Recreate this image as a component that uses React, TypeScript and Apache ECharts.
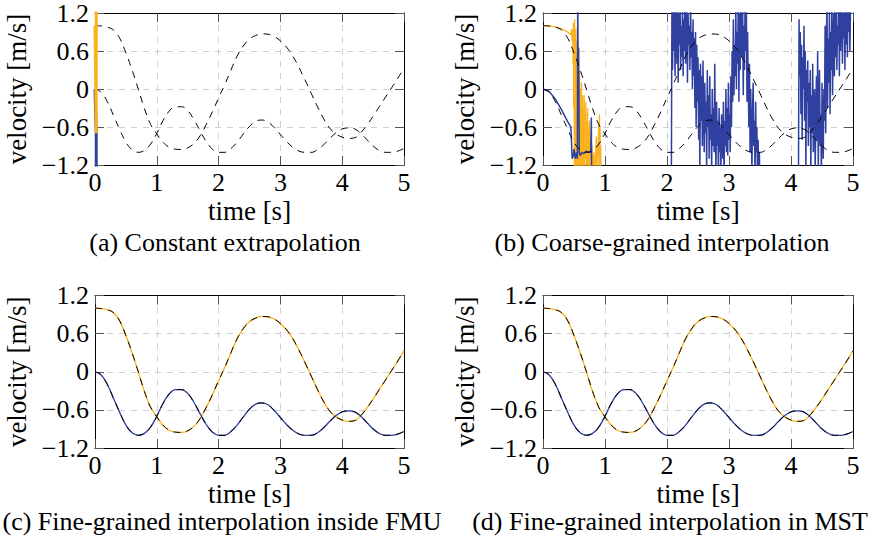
import React, { useEffect, useRef } from "react";
import * as echarts from "echarts";

// ---- data ----
const refTime = [
  0, 0.1, 0.2, 0.3, 0.4, 0.5, 0.6, 0.7, 0.8, 0.9, 1.0, 1.1, 1.2, 1.3, 1.4, 1.5, 1.6, 1.7, 1.8, 1.9,
  2.0, 2.1, 2.2, 2.3, 2.4, 2.5, 2.6, 2.7, 2.8, 2.9, 3.0, 3.1, 3.2, 3.3, 3.4, 3.5, 3.6, 3.7, 3.8, 3.9,
  4.0, 4.1, 4.2, 4.3, 4.4, 4.5, 4.6, 4.7, 4.8, 4.9, 5.0,
];
// velocity of body 1 (upper curve)
const refVel1 = [
  1.0, 0.995, 0.975, 0.93, 0.8, 0.57, 0.3, 0.0, -0.31, -0.56, -0.71, -0.84, -0.92, -0.95, -0.955, -0.93,
  -0.86, -0.74, -0.56, -0.36, -0.14, 0.07, 0.3, 0.52, 0.68, 0.79, 0.845, 0.87, 0.865, 0.83, 0.76, 0.66,
  0.52, 0.34, 0.14, -0.07, -0.28, -0.47, -0.62, -0.71, -0.76, -0.78, -0.77, -0.69, -0.57, -0.43, -0.28,
  -0.13, 0.02, 0.17, 0.33,
];
// velocity of body 2 (lower curve)
const refVel2 = [
  0, -0.05, -0.2, -0.42, -0.64, -0.84, -0.96, -1.0, -0.97, -0.87, -0.7, -0.5, -0.35, -0.28, -0.28, -0.34,
  -0.48, -0.66, -0.83, -0.95, -1.0, -1.0, -0.94, -0.84, -0.71, -0.59, -0.51, -0.49, -0.52, -0.61, -0.72,
  -0.83, -0.92, -0.98, -1.0, -1.0, -0.96, -0.88, -0.78, -0.69, -0.63, -0.615, -0.63, -0.7, -0.8, -0.9,
  -0.97, -1.0, -1.0, -0.98, -0.94,
];

// (a) constant extrapolation: diverges immediately
const constVel1: [number, number][] = [[0, 1.0], [0.02, -0.7], [0.021, 3]];
const constVel2: [number, number][] = [[0, 0], [0.02, -0.7], [0.021, -3]];

// (b) coarse-grained interpolation
const coarseVel1: [number, number][] = [
  [0, 1.0], [0.1, 0.995], [0.2, 0.98], [0.3, 0.95], [0.4, 0.9], [0.45, 0.85], [0.46, 0.95], [0.47, 0.75],
  [0.48, 0.93], [0.485, 0.4], [0.49, 1.05], [0.495, -0.3], [0.5, 0.9], [0.505, -1.3], [0.51, 1.1],
  [0.515, -0.6], [0.52, 0.85], [0.525, -1.3], [0.53, 0.95], [0.535, -0.9], [0.54, 0.6], [0.545, -1.3],
  [0.55, 0.75], [0.555, -1.1], [0.56, 0.4], [0.565, -1.3], [0.57, 0.5], [0.575, -0.7], [0.58, 0.2],
  [0.585, -1.3], [0.59, 0.3], [0.595, -1.0], [0.6, 0.0], [0.605, -1.3], [0.61, -0.1], [0.615, -1.2],
  [0.62, 0.1], [0.625, -1.3], [0.63, -0.2], [0.635, -1.1], [0.64, -0.1], [0.645, -1.3], [0.65, -0.3],
  [0.66, -1.2], [0.665, -0.1], [0.67, -1.3], [0.68, -0.4], [0.685, -1.1], [0.69, -0.2], [0.7, -1.3],
  [0.705, -0.5], [0.71, -1.2], [0.72, -0.3], [0.725, -1.3], [0.73, -0.6], [0.74, -1.25], [0.75, -0.5],
  [0.76, -1.3], [0.77, -0.8], [0.78, -1.3], [0.79, -0.9], [0.8, -1.3], [0.82, -1.0], [0.84, -1.3],
  [0.86, -0.75], [0.87, -1.3], [0.9, -0.55], [0.905, -1.3], [0.91, -0.4], [0.915, -1.3], [0.92, -0.6],
  [0.925, -1.4], [0.93, -0.9], [0.94, -1.5],
];
const coarseVel2Early: [number, number][] = [
  [0, 0], [0.1, -0.04], [0.2, -0.16], [0.3, -0.33], [0.4, -0.52], [0.45, -0.6], [0.46, -0.6],
  [0.47, -1.1], [0.49, -1.05], [0.5, -0.95], [0.52, -1.1], [0.54, -1.0], [0.555, -1.1], [0.56, 1.5],
  [0.565, 0.6], [0.57, 0.55], [0.575, 0.65], [0.58, -0.2], [0.585, -1.0], [0.6, -1.05], [0.63, -1.0],
  [0.66, -1.02], [0.7, -0.98], [0.74, -1.0], [0.77, -1.0], [0.78, -0.45], [0.785, -1.6],
];
const noiseStep = 0.01;
const burst1Start = 2.07;
const burst1Values = [
  -1.5, 1.5, 0.3, 1.4, 0.6, 1.3, 0.2, 0.9, 1.5, 0.4,
  1.3, 0.1, 1.2, 0.7, 1.5, 0.3, 1.0, 0.5, 1.4, 0.2,
  1.1, 0.6, 1.5, 0.4, 0.9, 1.3, 0.1, 1.2, 0.7, 1.0,
  0.3, 1.4, 0.5, 0.9, 0.0, 1.1, 0.2, 0.8, -0.3, 0.9,
  -0.6, 0.7, -0.2, 0.5, -0.8, 0.3, -1.3, 0.4, -0.5, 0.2,
  -0.9, 0.45, -0.3, -1.0, 0.1, -0.7, -0.2, -1.3, 0.3, -0.6,
  -0.1, -1.1, 0.2, -0.8, -0.4, -1.3, 0.0, -0.9, -0.3, -1.0,
  0.4, -0.7, -1.3, -0.2, -0.9, -0.5, -1.4, -0.3, -1.0, -0.6,
  -1.3, -0.4, -0.8, -1.1, -0.2, -1.4, -0.5, -0.9, 0.0, -1.0,
  -0.3, -1.05, 0.1, -0.8, -0.4, -1.0, 0.2, -0.6, 0.6, -0.2,
  1.1, -0.1, 0.7, 0.2, 1.3, 0.0, 0.9, 0.4, 1.5, -0.2,
  1.2, 0.3, 1.5, 0.5, 0.8, 1.4, -0.1, 1.0, 0.3, 1.5,
  0.6, 1.3, -0.2, 0.9, 0.1, -0.6, 0.4, -1.0, 0.0, -0.7,
  -1.3, -0.3, 0.1, -0.9, -0.5, -1.4, -0.2, -1.0, -0.6, -1.5,
  -0.8, -1.4, -1.0, -1.6,
];
const burst2Start = 4.12;
const burst2Values = [
  -1.5, 1.1, 0.2, 0.9, -0.4, 0.7, -0.8, 0.5, 0.0, 1.0,
  -0.5, 0.6, -1.3, 0.3, -0.2, 0.45, -0.9, 0.1, -0.6, 0.3,
  -1.3, -0.1, -0.7, 0.4, -1.0, -0.3, 0.0, -1.3, -0.5, 0.2,
  -0.8, 0.6, -1.3, -0.2, 0.3, -0.9, -0.4, -1.4, 0.1, -0.6,
  -1.1, 0.0, -0.5, 1.0, -0.7, 0.5, 1.5, -0.3, 0.8, 0.1,
  1.3, -0.4, 0.9, 0.3, 1.5, -0.1, 0.6, 1.2, 0.2, 1.4,
  0.5, 1.5, 0.3, 1.0, 0.7, 1.5, 0.2, 1.3, 0.6, 1.1,
  1.5, 0.4, 1.2, 0.8, 1.5, 0.3, 1.3, 0.7, 1.5, 0.5,
  1.4, 0.9, 1.5, 0.6, 1.3, 1.5,
];

const xTicks = [0, 1, 2, 3, 4, 5];
const yTicks = [-1.2, -0.6, 0, 0.6, 1.2];
const captions = [
  "(a) Constant extrapolation",
  "(b) Coarse-grained interpolation",
  "(c) Fine-grained interpolation inside FMU",
  "(d) Fine-grained interpolation in MST",
];

// ---- styling ----
const FONT = "Liberation Serif";
const FS = 27;
const FS_TICK = 26;
const FS_CAP = 26;
const YELLOW = "#FBB21F";
const BLUE = "#2F40A0";

const grids = [
  { left: 95, top: 13, width: 309, height: 152 },
  { left: 543, top: 13, width: 310, height: 152 },
  { left: 95, top: 295.5, width: 309, height: 152.5 },
  { left: 543, top: 295.5, width: 310, height: 152.5 },
];
const captionPos = [
  [225, 242.5],
  [662, 242.5],
  [222, 521.5],
  [670, 521.5],
];

function pairs(xs: number[], ys: number[]): [number, number][] {
  return xs.map((x, i) => [x, ys[i]]);
}
function burst(start: number, values: number[]): [number, number][] {
  return values.map((v, i) => [Math.round((start + i * noiseStep) * 1000) / 1000, v]);
}
function fmtY(v: number) {
  const r = Math.round(v * 10) / 10;
  return r < 0 ? "\u2212" + String(-r) : String(r);
}

export default function App() {
  const ref = useRef<HTMLDivElement>(null);
  useEffect(() => {
    if (!ref.current) return;
    const chart = echarts.init(ref.current, undefined, { renderer: "svg" });

    const xAxis: any[] = [];
    const yAxis: any[] = [];
    grids.forEach((_, g) => {
      const lineCommon = { show: true, onZero: false, lineStyle: { color: "#000", width: 1 } };
      const tickCommon = { show: true, inside: true, length: 9, lineStyle: { color: "#555", width: 1 } };
      xAxis.push({
        type: "value", gridIndex: g, position: "bottom", min: xTicks[0], max: xTicks[xTicks.length - 1], interval: 1,
        axisLine: lineCommon, axisTick: tickCommon,
        axisLabel: { fontFamily: FONT, fontSize: FS_TICK, color: "#000", margin: 4 },
        splitLine: { show: true, lineStyle: { color: "#cfcfcf", type: [6, 6], width: 1 } },
        name: "time [s]", nameLocation: "middle", nameGap: 32,
        nameTextStyle: { fontFamily: FONT, fontSize: FS, color: "#000" },
      });
      xAxis.push({
        type: "value", gridIndex: g, position: "top", min: xTicks[0], max: xTicks[xTicks.length - 1], interval: 1,
        axisLine: lineCommon, axisTick: tickCommon, axisLabel: { show: false }, splitLine: { show: false },
      });
      yAxis.push({
        type: "value", gridIndex: g, position: "left", min: yTicks[0], max: yTicks[yTicks.length - 1], interval: 0.6,
        axisLine: lineCommon, axisTick: tickCommon,
        axisLabel: { fontFamily: FONT, fontSize: FS_TICK, color: "#000", margin: 6, formatter: fmtY },
        splitLine: { show: true, lineStyle: { color: "#cfcfcf", type: [6, 6], width: 1 } },
        name: "velocity [m/s]", nameLocation: "middle", nameGap: 65, nameRotate: 90,
        nameTextStyle: { fontFamily: FONT, fontSize: FS, color: "#000" },
      });
      yAxis.push({
        type: "value", gridIndex: g, position: "right", min: yTicks[0], max: yTicks[yTicks.length - 1], interval: 0.6,
        axisLine: lineCommon, axisTick: tickCommon, axisLabel: { show: false }, splitLine: { show: false },
      });
    });

    const line = (g: number, data: any[], color: string, width: number, smooth: any, dashed = false, z = 2) => ({
      type: "line", xAxisIndex: 2 * g, yAxisIndex: 2 * g, data, showSymbol: false, symbol: "none",
      smooth, connectNulls: false, clip: true, silent: true, z,
      lineStyle: { color, width, type: dashed ? [7, 6] : "solid" },
    });

    const ref1 = pairs(refTime, refVel1);
    const ref2 = pairs(refTime, refVel2);
    const coarseVel2 = [
      ...coarseVel2Early, null, ...burst(burst1Start, burst1Values), null, ...burst(burst2Start, burst2Values),
    ];

    const series: any[] = [];
    // (a)
    series.push(line(0, constVel2, BLUE, 3, false, false, 5));
    series.push(line(0, constVel1, YELLOW, 3, false, false, 6));
    // (b)
    series.push(line(1, coarseVel1, YELLOW, 1.3, false));
    series.push(line(1, coarseVel2, BLUE, 1.5, false));
    // (c), (d)
    [2, 3].forEach((g) => {
      series.push(line(g, ref1, YELLOW, 1.3, 0.4));
      series.push(line(g, ref2, BLUE, 1.3, 0.4));
    });
    // reference (dashed) in all panels
    [0, 1, 2, 3].forEach((g) => {
      series.push(line(g, ref1, "#000", 1, 0.4, true, 3));
      series.push(line(g, ref2, "#000", 1, 0.4, true, 3));
    });

    chart.setOption({
      animation: false,
      backgroundColor: "#fff",
      grid: grids.map((p) => ({ ...p, containLabel: false })),
      xAxis,
      yAxis,
      series,
      graphic: captions.map((text, i) => ({
        type: "text", x: captionPos[i][0], y: captionPos[i][1],
        style: { text, fontFamily: FONT, fontSize: FS_CAP, fill: "#000", align: "center", verticalAlign: "middle" },
      })),
    });
    return () => chart.dispose();
  }, []);
  return (
    <div
      ref={ref}
      style={{ position: "fixed", left: 0, top: 0, width: 873, height: 547, background: "#fff" }}
    />
  );
}
